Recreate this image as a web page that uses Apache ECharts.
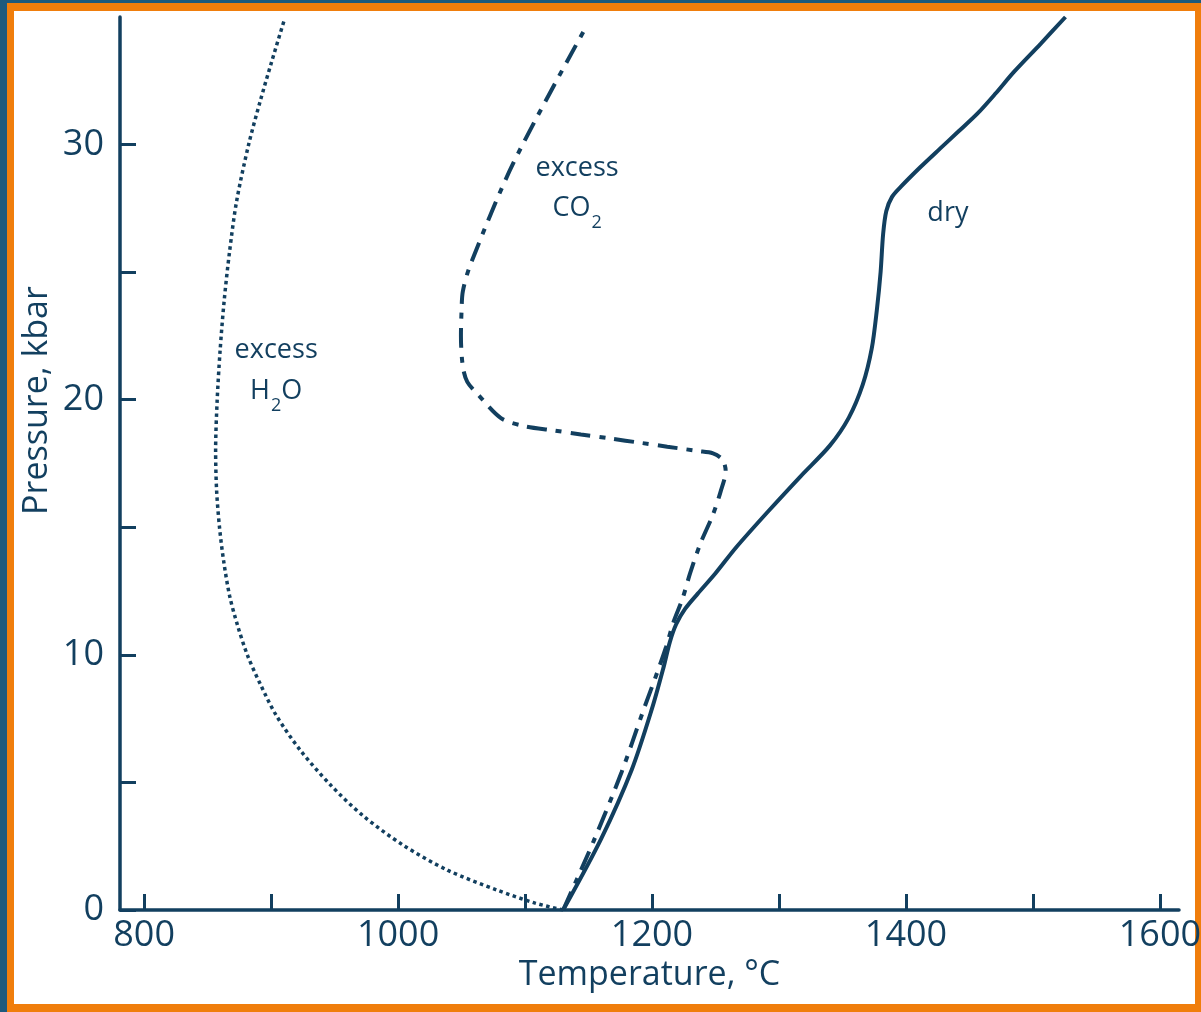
<!DOCTYPE html>
<html>
<head>
<meta charset="utf-8">
<script src="https://cdn.jsdelivr.net/npm/echarts@6/dist/echarts.min.js"></script>
<style>
  html, body { margin: 0; padding: 0; width: 1201px; height: 1012px; overflow: hidden; background: #1d5a7d; }
  #frame { position: absolute; left: 7px; top: 3px; width: 1194px; height: 1009px; background: #f07e0c; }
  #paper { position: absolute; left: 14px; top: 11px; width: 1181px; height: 993px; background: #ffffff; }
  #chart { position: absolute; left: 0; top: 0; width: 1201px; height: 1012px; }
</style>
</head>
<body>
<div id="frame"></div>
<div id="paper"></div>
<div id="chart"></div>
<script>
// Axis ticks and labels
const tempTicks = [800, 900, 1000, 1100, 1200, 1300, 1400, 1500, 1600];
const tempLabels = [800, 1000, 1200, 1400, 1600];
const pressTicks = [0, 5, 10, 15, 20, 25, 30];
const pressLabels = [0, 10, 20, 30];

// Solidus curves: [temperature °C, pressure kbar]
const excessH2O = [
  [1130, 0], [1108, 0.27], [1078, 0.78], [1039, 1.56], [1004, 2.54], [972, 3.71],
  [947, 4.89], [923, 6.26], [904, 7.63], [892, 8.8], [881.5, 9.97], [873.6, 11.15],
  [867.3, 12.32], [862.6, 13.69], [859.4, 14.98], [857.1, 16.43], [856.3, 18.0],
  [857.5, 19.95], [859.8, 21.9], [863, 23.86], [867.3, 25.81], [872.8, 27.77],
  [882.3, 30.0], [891.3, 31.68], [900.4, 33.24], [910.6, 34.92]
];

const excessCO2 = [
  [1130, 0], [1154, 2.7], [1176, 5.4], [1193, 7.8], [1204, 9.3], [1211, 10.3],
  [1217, 11.3], [1224, 12.2], [1230, 13.2], [1238, 14.35], [1248, 15.5],
  [1254, 16.4], [1258, 17.2], [1255.5, 17.65], [1248, 17.9], [1236, 17.99],
  [1212, 18.16], [1191, 18.31], [1167, 18.48], [1144, 18.64], [1122, 18.8],
  [1099, 18.97], [1081, 19.28], [1063, 20.2], [1054.5, 20.7], [1051, 21.3],
  [1049.5, 22.5], [1050, 23.5], [1051, 24.25], [1057, 25.3], [1091, 29.3],
  [1149, 34.7]
];

const dry = [
  [1130, 0], [1160, 2.8], [1184, 5.5], [1200, 7.9], [1209, 9.5], [1214, 10.5],
  [1219, 11.2], [1226, 11.8], [1236, 12.4], [1250, 13.2], [1266, 14.2],
  [1291, 15.6], [1317, 17.0], [1340, 18.2], [1355, 19.3], [1366, 20.6],
  [1373, 22.0], [1377, 23.5], [1380, 25.0], [1382, 26.5], [1384.5, 27.4],
  [1389, 27.95], [1396, 28.35], [1411, 29.1], [1427, 29.85], [1441, 30.5],
  [1456, 31.2], [1470.5, 32.0], [1485, 32.85], [1506, 33.95], [1525.6, 35.0]
];

// Curve annotations: [temperature, pressure, text]
const curveNotes = [
  [904, 21.94, 'excess'],
  [904, 20.28, '{t|H}{s|2}{t|O}'],
  [1141, 29.06, 'excess'],
  [1141, 27.43, '{t|CO}{s|2}'],
  [1433, 27.3, 'dry']
];

const ink = '#123f5f';
const font = '"Open Sans", "Noto Sans", sans-serif';
const plain = v => String(v);

const chart = echarts.init(document.getElementById('chart'), null, { renderer: 'canvas' });

chart.setOption({
  backgroundColor: 'transparent',
  animation: false,
  grid: { left: 120, right: 22, top: 17, bottom: 102, containLabel: false, outerBoundsMode: 'none' },
  xAxis: {
    type: 'value',
    min: 781, max: 1615,
    name: 'Temperature, °C',
    nameLocation: 'middle',
    nameGap: 48,
    nameMoveOverlap: false,
    nameTextStyle: { color: ink, fontFamily: font, fontSize: 34, verticalAlign: 'top' },
    axisLine: { show: true, onZero: false, lineStyle: { color: ink, width: 3.5 } },
    axisTick: { show: true, inside: true, length: 16, customValues: tempTicks, lineStyle: { color: ink, width: 3 } },
    axisLabel: { show: true, customValues: tempLabels, formatter: plain, margin: 8, color: ink, fontFamily: font, fontSize: 36 },
    splitLine: { show: false }
  },
  yAxis: {
    type: 'value',
    min: 0, max: 35,
    name: 'Pressure, kbar',
    nameLocation: 'middle',
    nameGap: 66,
    nameMoveOverlap: false,
    nameTextStyle: { color: ink, fontFamily: font, fontSize: 34, padding: [0, 0, 0, 126] },
    axisLine: { show: true, onZero: false, lineStyle: { color: ink, width: 3.5 } },
    axisTick: { show: true, inside: true, length: 16, customValues: pressTicks, lineStyle: { color: ink, width: 3 } },
    axisLabel: { show: true, customValues: pressLabels, formatter: plain, margin: 16, color: ink, fontFamily: font, fontSize: 36 },
    splitLine: { show: false }
  },
  series: [
    {
      name: 'excess H2O',
      type: 'line',
      data: excessH2O,
      smooth: 0.3,
      showSymbol: false,
      lineStyle: { color: ink, width: 3.5, type: [3.5, 3.5], cap: 'butt' }
    },
    {
      name: 'excess CO2',
      type: 'line',
      data: excessCO2,
      smooth: 0.3,
      showSymbol: false,
      lineStyle: { color: ink, width: 4, type: [20, 9, 6, 9], cap: 'butt' }
    },
    {
      name: 'dry',
      type: 'line',
      data: dry,
      smooth: 0.3,
      showSymbol: false,
      lineStyle: { color: ink, width: 4 }
    },
    {
      name: 'notes',
      type: 'scatter',
      symbolSize: 0,
      silent: true,
      itemStyle: { opacity: 1 },
      data: curveNotes.map(n => ({ value: [n[0], n[1]], name: n[2] })),
      label: {
        show: true,
        position: 'inside',
        formatter: p => p.name,
        color: ink,
        opacity: 1,
        fontFamily: font,
        fontSize: 27,
        rich: {
          t: { color: ink, fontFamily: font, fontSize: 27, lineHeight: 30, verticalAlign: 'top' },
          s: { color: ink, fontFamily: font, fontSize: 18, lineHeight: 18, verticalAlign: 'top', padding: [19, 0, 0, 1] }
        }
      }
    }
  ]
});
</script>
</body>
</html>
